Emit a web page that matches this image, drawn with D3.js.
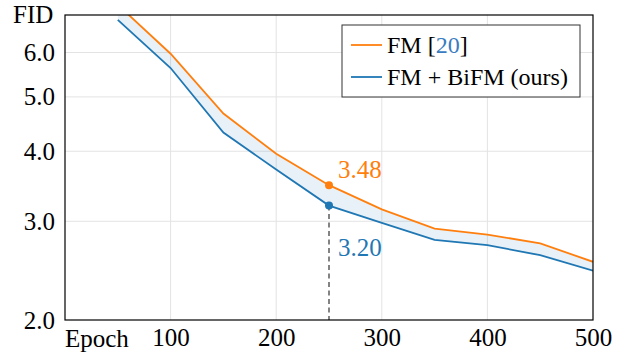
<!DOCTYPE html>
<html>
<head>
<meta charset="utf-8">
<script src="https://cdn.jsdelivr.net/npm/d3@7"></script>
<style>
  body { margin: 0; background: #fff; }
  svg { display: block; }
  text { font-family: "Liberation Serif", "Times New Roman", serif; }
</style>
</head>
<body>
<svg id="chart" width="624" height="353"></svg>
<script>
// values
var epochs = [50, 100, 150, 200, 250, 300, 350, 400, 450, 500];
var fmFid = [7.3, 5.97, 4.67, 3.96, 3.48, 3.15, 2.91, 2.84, 2.74, 2.54];
var bifmFid = [6.86, 5.63, 4.32, 3.71, 3.20, 2.98, 2.78, 2.72, 2.61, 2.45];
var xTicks = [100, 200, 300, 400, 500];
var yTicks = [2, 3, 4, 5, 6];
var markEpoch = 250;

var orange = '#ff7f0e';
var blue = '#1f77b4';
var serif = '"Liberation Serif", "Times New Roman", serif';

var plotL = 65, plotR = 593, plotT = 15, plotB = 320;

var svg = d3.select('#chart');

var x = d3.scaleLinear().domain([0, 500]).range([plotL, plotR]);
var y = d3.scaleLog().domain([2, 7]).range([plotB, plotT]);

svg.append('defs').append('clipPath').attr('id', 'clip')
    .append('rect')
    .attr('x', plotL).attr('y', plotT)
    .attr('width', plotR - plotL).attr('height', plotB - plotT);

// grid
var grid = svg.append('g');
grid.selectAll('.gx')
    .data(xTicks.filter(function(d) { return d < 500; }))
    .enter().append('line')
    .attr('x1', function(d) { return x(d); })
    .attr('x2', function(d) { return x(d); })
    .attr('y1', plotT).attr('y2', plotB)
    .attr('stroke', '#e3e3e3').attr('stroke-width', 1);
grid.selectAll('.gy')
    .data(yTicks.filter(function(d) { return d > 2; }))
    .enter().append('line')
    .attr('x1', plotL).attr('x2', plotR)
    .attr('y1', function(d) { return y(d); })
    .attr('y2', function(d) { return y(d); })
    .attr('stroke', '#e3e3e3').attr('stroke-width', 1);

var rows = epochs.map(function(e, i) {
    return {epoch: e, fm: fmFid[i], bifm: bifmFid[i]};
});

var plot = svg.append('g').attr('clip-path', 'url(#clip)');

var band = d3.area()
    .x(function(d) { return x(d.epoch); })
    .y0(function(d) { return y(d.bifm); })
    .y1(function(d) { return y(d.fm); });

plot.append('path')
    .datum(rows)
    .attr('d', band)
    .attr('fill', blue)
    .attr('fill-opacity', 0.1);

var fmLine = d3.line()
    .x(function(d) { return x(d.epoch); })
    .y(function(d) { return y(d.fm); });
var bifmLine = d3.line()
    .x(function(d) { return x(d.epoch); })
    .y(function(d) { return y(d.bifm); });

plot.append('path').datum(rows).attr('d', fmLine)
    .attr('fill', 'none').attr('stroke', orange).attr('stroke-width', 1.8);
plot.append('path').datum(rows).attr('d', bifmLine)
    .attr('fill', 'none').attr('stroke', blue).attr('stroke-width', 1.8);

// marker at epoch 250
var k = epochs.indexOf(markEpoch);
svg.append('line')
    .attr('x1', x(markEpoch)).attr('x2', x(markEpoch))
    .attr('y1', y(bifmFid[k])).attr('y2', plotB)
    .attr('stroke', '#333').attr('stroke-width', 1.2)
    .attr('stroke-dasharray', '5,3.5');

svg.append('circle').attr('cx', x(markEpoch)).attr('cy', y(fmFid[k]))
    .attr('r', 4).attr('fill', orange);
svg.append('circle').attr('cx', x(markEpoch)).attr('cy', y(bifmFid[k]))
    .attr('r', 4).attr('fill', blue);

svg.append('text')
    .attr('x', x(markEpoch) + 9).attr('y', y(fmFid[k]) - 7)
    .attr('font-family', serif).attr('font-size', 25).attr('fill', orange)
    .text(fmFid[k].toFixed(2));
svg.append('text')
    .attr('x', x(markEpoch) + 9).attr('y', y(bifmFid[k]) + 50)
    .attr('font-family', serif).attr('font-size', 25).attr('fill', blue)
    .text(bifmFid[k].toFixed(2));

// frame
svg.append('rect')
    .attr('x', plotL).attr('y', plotT)
    .attr('width', plotR - plotL).attr('height', plotB - plotT)
    .attr('fill', 'none').attr('stroke', '#000').attr('stroke-width', 1.2);

// axes
var yAxis = svg.append('g')
    .attr('transform', 'translate(' + plotL + ',0)')
    .call(d3.axisLeft(y).tickValues(yTicks).tickFormat(d3.format('.1f')).tickSize(0).tickPadding(10));
var xAxis = svg.append('g')
    .attr('transform', 'translate(0,' + plotB + ')')
    .call(d3.axisBottom(x).tickValues(xTicks).tickFormat(d3.format('d')).tickSize(0).tickPadding(8));
[yAxis, xAxis].forEach(function(a) {
    a.attr('font-family', serif).attr('font-size', 25);
    a.select('.domain').remove();
    a.selectAll('text').attr('fill', '#000');
});

svg.append('text').attr('x', 13).attr('y', 23)
    .attr('font-family', serif).attr('font-size', 25).text('FID');
svg.append('text').attr('x', 65).attr('y', 347)
    .attr('font-family', serif).attr('font-size', 25).text('Epoch');

// legend
var legend = svg.append('g').attr('font-family', serif);
legend.append('rect')
    .attr('x', 342).attr('y', 25).attr('width', 238).attr('height', 72)
    .attr('fill', '#fff').attr('stroke', '#333').attr('stroke-width', 1);

var entries = [
    {color: orange, y: 45},
    {color: blue, y: 77}
];
legend.selectAll('.ll').data(entries).enter().append('line')
    .attr('x1', 351).attr('x2', 382)
    .attr('y1', function(d) { return d.y; })
    .attr('y2', function(d) { return d.y; })
    .attr('stroke', function(d) { return d.color; })
    .attr('stroke-width', 1.8);

var t1 = legend.append('text').attr('x', 387).attr('y', 53).attr('font-size', 24);
t1.append('tspan').text('FM [');
t1.append('tspan').attr('fill', '#3a7cc0').text('20');
t1.append('tspan').text(']');
legend.append('text').attr('x', 387).attr('y', 85).attr('font-size', 24)
    .text('FM + BiFM (ours)');
</script>
</body>
</html>
